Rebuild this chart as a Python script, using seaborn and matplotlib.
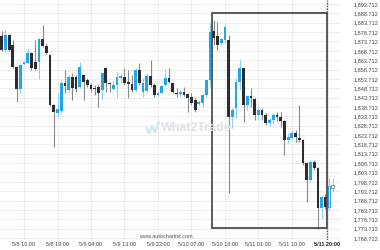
import matplotlib
matplotlib.use("Agg")
import matplotlib.pyplot as plt
import seaborn as sns
from matplotlib.patches import Rectangle
from matplotlib.lines import Line2D

# ---------------- data (hourly candles) ----------------
opens = [1876.6, 1869.1, 1877.2, 1871.8, 1860.1, 1848.3, 1861.7, 1862.2, 1867.5, 1862.7,
         1862.7, 1875.0, 1871.3, 1866.5, 1839.8, 1835.5, 1836.6, 1851.5, 1847.8, 1854.7,
         1854.7, 1849.4, 1855.8, 1853.1, 1850.4, 1848.8, 1849.4, 1847.8, 1859.5, 1851.5,
         1848.3, 1850.4, 1854.2, 1854.7, 1852.0, 1851.0, 1847.8, 1858.5, 1846.7, 1847.2,
         1855.2, 1850.4, 1845.1, 1846.2, 1850.4, 1854.2, 1851.5, 1846.2, 1845.6, 1846.7,
         1845.6, 1844.0, 1842.4, 1840.3, 1840.8, 1845.1, 1853.1, 1879.3, 1876.6, 1872.9,
         1874.5, 1874.5, 1833.3, 1838.2, 1852.0, 1859.5, 1839.8, 1844.6, 1843.0, 1834.4,
         1837.1, 1834.4, 1830.1, 1831.7, 1834.4, 1833.3, 1831.2, 1821.1, 1822.1, 1824.8,
         1822.1, 1821.1, 1808.8, 1799.7, 1809.3, 1806.1, 1784.7, 1790.6, 1785.3, 1795.4]
highs = [1879.3, 1879.8, 1877.7, 1874.5, 1860.6, 1862.2, 1863.3, 1870.2, 1868.1, 1874.5,
         1875.5, 1882.5, 1872.9, 1867.0, 1840.3, 1846.2, 1853.1, 1858.5, 1855.8, 1856.9,
         1855.8, 1862.7, 1855.8, 1854.2, 1851.5, 1850.4, 1850.4, 1857.4, 1860.1, 1852.0,
         1853.1, 1857.4, 1856.9, 1859.5, 1858.5, 1855.8, 1859.5, 1862.2, 1854.2, 1856.9,
         1863.8, 1851.5, 1846.7, 1850.4, 1859.0, 1859.5, 1851.5, 1848.8, 1847.8, 1849.4,
         1846.2, 1846.2, 1843.5, 1842.4, 1846.2, 1853.1, 1883.6, 1885.2, 1884.1, 1875.5,
         1882.5, 1877.2, 1838.2, 1854.2, 1863.8, 1860.1, 1845.1, 1848.8, 1843.5, 1838.7,
         1838.2, 1835.5, 1832.8, 1835.5, 1836.0, 1836.0, 1831.7, 1824.8, 1825.9, 1826.4,
         1839.8, 1821.6, 1809.3, 1810.4, 1810.4, 1806.6, 1791.2, 1792.2, 1800.8, 1800.8]
lows = [1868.6, 1868.1, 1868.6, 1859.5, 1841.4, 1846.2, 1861.1, 1862.2, 1858.5, 1858.5,
        1853.6, 1870.7, 1867.0, 1839.2, 1817.3, 1833.3, 1835.5, 1846.2, 1846.7, 1842.4,
        1846.7, 1848.8, 1842.4, 1849.4, 1846.7, 1845.1, 1838.7, 1842.4, 1846.7, 1846.7,
        1847.8, 1843.5, 1851.5, 1850.4, 1843.5, 1846.7, 1846.7, 1850.4, 1844.0, 1846.7,
        1849.4, 1844.0, 1844.0, 1846.2, 1849.9, 1851.5, 1846.2, 1844.0, 1844.0, 1844.6,
        1836.0, 1839.8, 1836.0, 1839.8, 1838.7, 1844.0, 1849.4, 1871.8, 1869.1, 1871.8,
        1872.9, 1792.8, 1827.5, 1832.8, 1847.8, 1830.7, 1837.1, 1838.7, 1831.7, 1831.7,
        1831.7, 1829.1, 1828.5, 1829.6, 1831.2, 1828.0, 1813.1, 1819.5, 1821.1, 1820.0,
        1820.0, 1807.7, 1787.9, 1798.6, 1805.0, 1773.5, 1778.9, 1784.2, 1783.7, 1793.3]
closes = [1869.1, 1877.2, 1869.1, 1860.1, 1848.3, 1861.1, 1862.7, 1867.5, 1859.5, 1859.0,
          1875.0, 1871.3, 1867.5, 1839.8, 1836.0, 1837.6, 1851.5, 1849.9, 1854.7, 1848.8,
          1848.3, 1860.1, 1852.0, 1850.4, 1848.3, 1848.3, 1846.2, 1856.9, 1851.5, 1851.0,
          1850.4, 1854.7, 1855.2, 1851.5, 1851.0, 1847.8, 1858.5, 1851.5, 1851.5, 1855.2,
          1850.4, 1845.1, 1846.2, 1849.9, 1854.2, 1852.0, 1846.7, 1845.6, 1846.7, 1845.1,
          1843.5, 1840.8, 1837.1, 1841.4, 1845.1, 1853.1, 1878.8, 1875.5, 1871.8, 1875.0,
          1881.4, 1833.3, 1837.1, 1852.0, 1859.5, 1839.8, 1844.6, 1843.5, 1834.4, 1837.1,
          1834.4, 1830.1, 1831.7, 1834.4, 1833.3, 1831.2, 1821.1, 1822.7, 1824.8, 1822.7,
          1821.1, 1808.8, 1799.7, 1809.3, 1806.1, 1784.7, 1790.6, 1785.3, 1796.5, 1797.0]

x_tick_pos = [6, 15, 24, 33, 42, 51, 60, 69, 78]
x_tick_labels = ["5/8 10:00", "5/8 19:00", "5/9 04:00", "5/9 13:00", "5/9 22:00",
                 "5/10 07:00", "5/10 16:00", "5/11 01:00", "5/11 10:00"]
marker_pos = 87.37
marker_label = "5/11 20:00"
y_ticks = [1768.712, 1773.712, 1778.712, 1783.712, 1788.712, 1793.712, 1798.712,
           1803.712, 1808.712, 1813.712, 1818.712, 1823.712, 1828.712, 1833.712,
           1838.712, 1843.712, 1848.712, 1853.712, 1858.712, 1863.712, 1868.712,
           1873.712, 1878.712, 1883.712, 1888.712, 1893.712]
pattern_x = [56.6, 87.37]
pattern_y = [1774.0, 1888.8]
live_candles = [88, 89]

# ---------------- styling ----------------
sns.set_style("white")
plt.rcParams["font.family"] = ["Liberation Sans", "DejaVu Sans"]

BULL = "#22a6e8"
BULL_WICK = "#8fd2f3"
BEAR = "#2b2c31"
BEAR_WICK = "#8a8a8a"
GRID = "#eeeeee"
TXT = "#444444"

W, H = 380, 250
fig = plt.figure(figsize=(W / 100, H / 100), dpi=100)
ax_right_px = 340
ax_bottom_px = 240
ax = fig.add_axes([0, (H - ax_bottom_px) / H, ax_right_px / W, ax_bottom_px / H])

ax.set_xlim(-0.457, 90.94)
ax.set_ylim(1767.64, 1895.85)

# grid
for yv in y_ticks:
    ax.axhline(yv, color=GRID, lw=0.8, zorder=0)
for xv in x_tick_pos:
    ax.axvline(xv, color=GRID, lw=0.8, zorder=0)

# candles
n = len(opens)
bw = 0.74
for i in range(n):
    o, h, l, c = opens[i], highs[i], lows[i], closes[i]
    up = c >= o
    wick_c = BULL_WICK if up else BEAR_WICK
    body_c = BULL if up else BEAR
    lo, hi = min(o, c), max(o, c)
    if hi - lo < 0.4:
        hi = lo + 0.4
    ax.vlines(i, l, h, color=wick_c, lw=0.8, zorder=2)
    if i in live_candles:
        edge = BULL if up else "#9a9a9a"
        if i == live_candles[-1]:
            edge = "#9a9a9a"
        ax.add_patch(Rectangle((i - bw / 2, lo), bw, hi - lo, facecolor="white",
                               edgecolor=edge, lw=0.7, zorder=3))
    else:
        ax.add_patch(Rectangle((i - bw / 2, lo), bw, hi - lo, facecolor=body_c,
                               edgecolor="none", zorder=3))

# pattern rectangle
ax.add_patch(Rectangle((pattern_x[0], pattern_y[0]), pattern_x[1] - pattern_x[0],
                       pattern_y[1] - pattern_y[0], facecolor="none",
                       edgecolor="#4d4d4d", lw=1.3, zorder=4))
ax.axvline(marker_pos, color="#5a5a5a", lw=1.0, ls=(0, (1.2, 0.8)), zorder=5)

# axes decoration
for s in ax.spines.values():
    s.set_visible(False)
ax.yaxis.tick_right()
ax.set_yticks(y_ticks)
ax.set_yticklabels([f"{v:,.3f}" for v in y_ticks])
ax.tick_params(axis="y", length=0, pad=27.5, labelsize=4.0, labelcolor=TXT)
for t in ax.get_yticklabels():
    t.set_horizontalalignment("right")
ax.set_xticks(x_tick_pos + [marker_pos])
ax.set_xticklabels(x_tick_labels + [marker_label])
ax.tick_params(axis="x", length=0, pad=1.2, labelsize=4.0, labelcolor=TXT)
ax.get_xticklabels()[-1].set_fontweight("bold")
ax.get_xticklabels()[-1].set_color("#222222")
ax.grid(False)

# watermark
fig.text(196 / W, 1 - 128 / H, "What2Trade", ha="center", va="center",
         fontsize=9, fontweight="bold", color="#dde4ea", zorder=1)
fig.add_artist(Line2D([146 / W, 149 / W, 152 / W, 155 / W, 159 / W],
                      [1 - 127 / H, 1 - 133 / H, 1 - 126 / H, 1 - 132 / H, 1 - 122 / H],
                      color="#cfe9f7", lw=1.6, zorder=1))
fig.text(166 / W, 1 - 236 / H, "www.autochartist.com", ha="center", va="center",
         fontsize=4, color="#555555")

fig.savefig("out.png", dpi=100)
